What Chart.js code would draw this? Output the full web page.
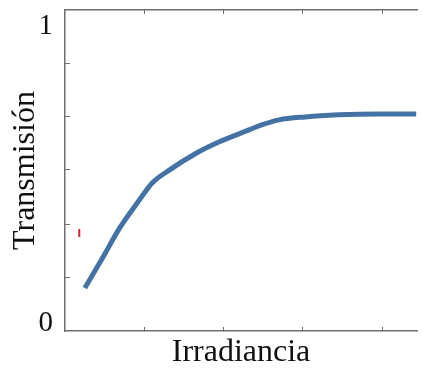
<!DOCTYPE html>
<html>
<head>
<meta charset="utf-8">
<script src="https://cdn.jsdelivr.net/npm/chart.js@4/dist/chart.umd.min.js"></script>
<style>
  html, body { margin: 0; padding: 0; background: #ffffff; }
  #wrap { width: 423px; height: 369px; position: relative; }
</style>
</head>
<body>
<div id="wrap"><canvas id="c"></canvas></div>
<script>
// Curve: transmission vs irradiance (arbitrary units)
const irradiance   = [0.25, 0.48, 0.69, 0.94, 1.10, 1.32, 1.66, 1.94, 2.32, 2.48, 2.70, 3.03, 3.45, 3.95, 4.43];
const transmission = [0.118, 0.223, 0.321, 0.416, 0.473, 0.517, 0.574, 0.611, 0.652, 0.669, 0.686, 0.696, 0.703, 0.706, 0.706];
// small red stray mark in the figure
const markX = [0.18];
const markY = [0.304];
// axes
const xTickValues = [1, 2, 3, 4];
const yTickValues = [0, 0.155, 0.334, 0.517, 0.696, 0.878, 1];
const yTickLabels = {0: '0', 1: '1'};
const xTitle = 'Irradiancia';
const yTitle = 'Transmisión';

const AXIS = '#6f6f6f';
const FONT = "'Liberation Serif', 'DejaVu Serif', serif";
const XMAX = 4.44;

const curve = irradiance.map((x, i) => ({x: x, y: transmission[i]}));
const mark = markX.map((x, i) => ({x: x, y: markY[i]}));

function noPad(s) { s.paddingTop = 0; s.paddingBottom = 0; s.paddingLeft = 0; s.paddingRight = 0; }

new Chart(document.getElementById('c'), {
  type: 'scatter',
  data: {
    datasets: [
      {
        data: curve,
        showLine: true,
        borderColor: '#4472a4',
        borderWidth: 5,
        pointRadius: 0,
        cubicInterpolationMode: 'monotone',
        fill: false
      },
      {
        data: mark,
        showLine: false,
        pointStyle: 'line',
        rotation: 90,
        pointRadius: 4,
        borderColor: '#d9262b',
        borderWidth: 2,
        backgroundColor: '#d9262b'
      }
    ]
  },
  options: {
    responsive: true,
    maintainAspectRatio: false,
    animation: false,
    layout: { padding: { left: 0, right: 0, top: 0, bottom: 0 } },
    plugins: { legend: { display: false }, tooltip: { enabled: false } },
    scales: {
      x: {
        type: 'linear',
        position: 'bottom',
        min: 0,
        max: XMAX,
        afterBuildTicks: (s) => { s.ticks = xTickValues.map(v => ({value: v})); },
        afterFit: (s) => { s.height = 38; noPad(s); },
        ticks: { callback: () => '', font: { family: FONT, size: 10 } },
        grid: { drawOnChartArea: false, drawTicks: true, tickLength: -4, color: AXIS, tickWidth: 1 },
        border: { display: true, color: AXIS, width: 1.5 },
        title: {
          display: true, text: xTitle, color: '#111',
          font: { family: FONT, size: 32, lineHeight: 1 },
          padding: { top: 0, bottom: 0 }
        }
      },
      xTop: {
        type: 'linear',
        position: 'top',
        min: 0,
        max: XMAX,
        afterBuildTicks: (s) => { s.ticks = xTickValues.map(v => ({value: v})); },
        afterFit: (s) => { s.height = 10; noPad(s); },
        ticks: { callback: () => '', font: { family: FONT, size: 10 } },
        grid: { drawOnChartArea: false, drawTicks: true, tickLength: -4, color: AXIS, tickWidth: 1 },
        border: { display: true, color: AXIS, width: 1.5 }
      },
      y: {
        type: 'linear',
        position: 'left',
        min: -0.027,
        max: 1.057,
        afterBuildTicks: (s) => { s.ticks = yTickValues.map(v => ({value: v})); },
        afterFit: (s) => { s.width = 65; noPad(s); },
        ticks: {
          callback: (v) => (yTickLabels[v] !== undefined ? yTickLabels[v] : ''),
          color: '#111',
          padding: 17,
          font: { family: FONT, size: 29 }
        },
        grid: {
          drawOnChartArea: false, drawTicks: true, tickLength: -5, tickWidth: 1,
          color: (c) => (c.tick && (c.tick.value === 0 || c.tick.value === 1)) ? 'rgba(0,0,0,0)' : AXIS
        },
        border: { display: true, color: AXIS, width: 1.5 },
        title: {
          display: true, text: yTitle, color: '#111',
          font: { family: FONT, size: 32, lineHeight: 1 },
          padding: { top: 10, bottom: 0 }
        }
      }
    }
  }
});
</script>
</body>
</html>
